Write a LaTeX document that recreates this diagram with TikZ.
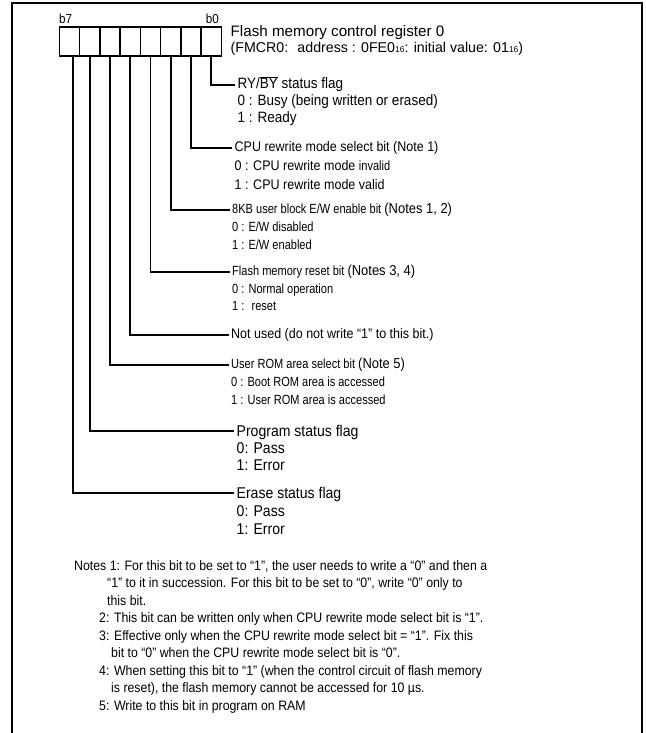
\documentclass[tikz,border=0pt]{standalone}
\usepackage{fontspec}
\setmainfont{Liberation Sans}
\newfontfamily\condD{Liberation Sans}[FakeStretch=0.9]
\newfontfamily\condS{Liberation Sans}[FakeStretch=0.83]
\newcommand\fRY{\condD\fontsize{15}{17}\selectfont}
\newcommand\fCPU{\condD\fontsize{13.9}{16}\selectfont}
\newcommand\fSmall{\condS\fontsize{13.3}{15}\selectfont}
\newcommand\fNU{\condD\fontsize{13.9}{16}\selectfont}
\newcommand\fPar{\condD\fontsize{14.4}{16}\selectfont}
\newcommand\fBig{\condD\fontsize{15.6}{18}\selectfont}
\newcommand\fTitle{\fontsize{15.2}{17}\selectfont}
\newcommand\fAddr{\fontsize{14.2}{16}\selectfont}
\newcommand\fNote{\condD\fontsize{13.7}{16}\selectfont}
\newcommand\fSub{\fontsize{8.5}{9}\selectfont}
\newcommand\fBit{\condD\fontsize{13}{15}\selectfont}
\begin{document}
\begin{tikzpicture}[x=1pt,y=-1pt,
  frame/.style={line width=2.8pt},
  cell/.style={draw, line width=1.6pt, minimum width=20.25pt, minimum height=29pt, inner sep=0pt, anchor=north west},
  wire/.style={line width=1.8pt},
  head/.style={anchor=west, inner xsep=2.5pt, inner ysep=0pt, text height=10pt, text depth=3pt},
  headbig/.style={anchor=west, inner xsep=2.5pt, inner ysep=0pt, text height=13pt, text depth=2pt},
  bitlab/.style={inner sep=0pt, font=\fBit},
  plain/.style={anchor=base west, inner sep=0pt},
  note/.style={anchor=base west, inner sep=0pt, font=\fNote},
]
\useasboundingbox (0,0) rectangle (645,733);
% frame
\draw[frame] (12,733) -- (12,3) -- (642,3) -- (642,733);
% register cells
\foreach \i in {0,...,7} \node[cell] (c\i) at ({58.5+(7-\i)*20.25},26) {};
\node[bitlab, anchor=base west] (b7) at (59,23.5) {b7};
\node[bitlab, anchor=base east] (b0) at (219,23.5) {b0};
% title
\node[plain, font=\fTitle] (title) at (230.5,37) {Flash memory control register 0};
\node[plain, font=\fAddr] (addr) at (230.5,52.5) {(FMCR0: \ address : 0FE0{\fSub 16}: initial value: 01{\fSub 16})};
% bit 0
\node[head, font=\fRY] (l0) at (235,85) {RY/$\overline{\hbox{BY}}$ status flag};
\node[head, font=\fRY] (l0a) at (235,102) {0 : Busy (being written or erased)};
\node[head, font=\fRY] (l0b) at (235,118.5) {1 : Ready};
% bit 1
\node[head, font=\fCPU] (l1) at (232,148) {CPU rewrite mode select bit (Note 1)};
\node[head, font=\fCPU] (l1a) at (232,167) {0 : CPU rewrite mode {\fSmall invalid}};
\node[head, font=\fCPU] (l1b) at (232,185.5) {1 : CPU rewrite mode valid};
% bit 2
\node[head, font=\fSmall] (l2) at (229.5,210) {8KB user block E/W enable bit {\fPar (Notes 1, 2)}};
\node[head, font=\fSmall] (l2a) at (229.5,228) {0 : E/W disabled};
\node[head, font=\fSmall] (l2b) at (229.5,246) {1 : E/W enabled};
% bit 3
\node[head, font=\fSmall] (l3) at (229.5,272) {Flash memory reset bit {\fPar (Notes 3, 4)}};
\node[head, font=\fSmall] (l3a) at (229.5,289.5) {0 : Normal operation};
\node[head, font=\fSmall] (l3b) at (229.5,307) {1 : \ reset};
% bit 4
\node[head, font=\fNU] (l4) at (228.5,335) {Not used (do not write “1” to this bit.)};
% bit 5
\node[head, font=\fSmall] (l5) at (228.5,365) {User ROM area select bit {\fPar (Note 5)}};
\node[head, font=\fSmall] (l5a) at (228.5,383) {0 : Boot ROM area is accessed};
\node[head, font=\fSmall] (l5b) at (228.5,400.5) {1 : User ROM area is accessed};
% bit 6
\node[headbig, font=\fBig] (l6) at (234,431) {Program status flag};
\node[headbig, font=\fBig] (l6a) at (234,448) {0: Pass};
\node[headbig, font=\fBig] (l6b) at (234,465) {1: Error};
% bit 7
\node[headbig, font=\fBig] (l7) at (234,493) {Erase status flag};
\node[headbig, font=\fBig] (l7a) at (234,511) {0: Pass};
\node[headbig, font=\fBig] (l7b) at (234,528.5) {1: Error};
% connectors
\draw[wire] (c0.south) |- (l0.west);
\draw[wire] (c1.south) |- (l1.west);
\draw[wire] (c2.south) |- (l2.west);
\draw[wire] (c3.south) |- (l3.west);
\draw[wire] (c4.south) |- (l4.west);
\draw[wire] (c5.south) |- (l5.west);
\draw[wire] (c6.south) |- (l6.west);
\draw[wire] ([xshift=3.5pt]c7.south) |- (l7.west);
% notes
\node[note] (n1t1) at (74,570) {Notes 1: For this bit to be set to “1”, the user needs to write a “0” and then a};
\node[note] (n1t2) at (107,587.5) {“1” to it in succession. For this bit to be set to “0”, write “0” only to};
\node[note] (n1t3) at (107,605) {this bit.};
\node[note] (n2) at (99,622.5) {2: This bit can be written only when CPU rewrite mode select bit is “1”.};
\node[note] (n3) at (99,640) {3: Effective only when the CPU rewrite mode select bit = “1”. Fix this};
\node[note] (n3t2) at (111,657.5) {bit to “0” when the CPU rewrite mode select bit is “0”.};
\node[note] (n4) at (99,675) {4: When setting this bit to “1” (when the control circuit of flash memory};
\node[note] (n4t2) at (111,692.5) {is reset), the flash memory cannot be accessed for 10 µs.};
\node[note] (n5) at (99,710) {5: Write to this bit in program on RAM};
\end{tikzpicture}
\end{document}
